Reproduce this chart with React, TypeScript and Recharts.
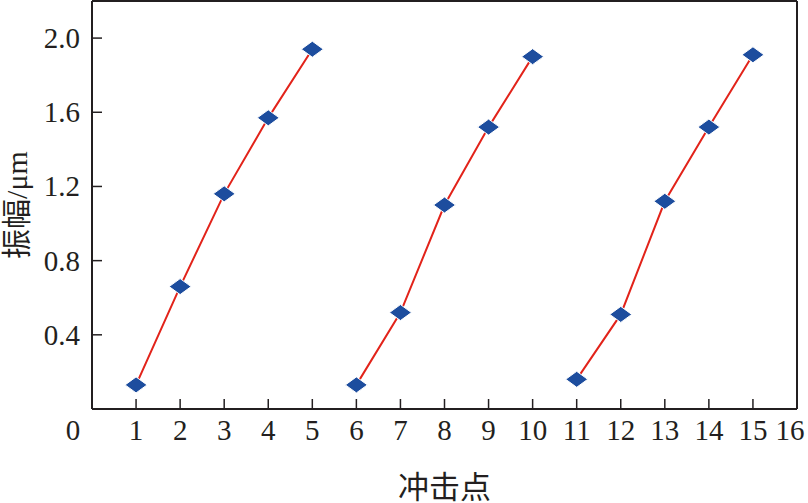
import { LineChart, Line, XAxis, YAxis, ReferenceLine } from 'recharts';

// impact points and measured amplitudes (µm), three runs of five points
const run1X = [1, 2, 3, 4, 5];
const run1Y = [0.13, 0.66, 1.16, 1.57, 1.94];
const run2X = [6, 7, 8, 9, 10];
const run2Y = [0.13, 0.52, 1.1, 1.52, 1.9];
const run3X = [11, 12, 13, 14, 15];
const run3Y = [0.16, 0.51, 1.12, 1.52, 1.91];

const xTicks = [0, 1, 2, 3, 4, 5, 6, 7, 8, 9, 10, 11, 12, 13, 14, 15, 16];
const yTicks = [0.4, 0.8, 1.2, 1.6, 2.0];

const INK = '#231F20';
const SERIF = '"Liberation Serif", "Times New Roman", serif';
const CJK = '"Noto Sans CJK SC", sans-serif';

const toRows = (xs: number[], ys: number[]) => xs.map((x, i) => ({ x, y: ys[i] }));

const Diamond = (props: any) => {
    const { cx, cy } = props;
    if (cx == null || cy == null) return null;
    return (
        <polygon
            points={`${cx - 11},${cy} ${cx},${cy - 8} ${cx + 11},${cy} ${cx},${cy + 8}`}
            fill="#1D4D9E"
            stroke="#fff"
            strokeWidth={1}
        />
    );
};

const XTick = (props: any) => {
    const { x, y, payload } = props;
    const v = payload.value;
    const axisY = y - 8;
    // first and last labels are nudged inward like the original
    const shift = v === 0 ? -19 : v === 16 ? -7 : 0;
    return (
        <g>
            {v !== 0 && v !== 16 && <line x1={x} x2={x} y1={axisY} y2={axisY - 10} stroke={INK} strokeWidth={1.5} />}
            <text x={x + shift} y={y} dy={23} textAnchor="middle" fill={INK} fontSize={29} fontFamily={SERIF}>
                {v}
            </text>
        </g>
    );
};

const YTick = (props: any) => {
    const { x, y, payload } = props;
    const axisX = x + 12;
    return (
        <g>
            <line x1={axisX} x2={axisX + 10} y1={y} y2={y} stroke={INK} strokeWidth={1.5} />
            <text x={x} y={y} dy={10} textAnchor="end" fill={INK} fontSize={29} fontFamily={SERIF}>
                {payload.value.toFixed(1)}
            </text>
        </g>
    );
};

const YLabel = (props: any) => {
    const vb = props.viewBox || {};
    const cx = (vb.x || 0) + 17;
    const cy = (vb.y || 0) + (vb.height || 0) / 2;
    return (
        <text transform={`translate(${cx},${cy}) rotate(-90)`} textAnchor="middle" dy={10} fill={INK} fontSize={30}>
            <tspan fontFamily={CJK}>振幅</tspan>
            <tspan fontFamily={SERIF}>/μm</tspan>
        </text>
    );
};

const XLabel = (props: any) => {
    const vb = props.viewBox || {};
    const cx = (vb.x || 0) + (vb.width || 0) / 2;
    return (
        <text x={cx} y={498} textAnchor="middle" fill={INK} fontSize={31} fontFamily={CJK}>
            冲击点
        </text>
    );
};

export default function App() {
    const series = [toRows(run1X, run1Y), toRows(run2X, run2Y), toRows(run3X, run3Y)];
    return (
        <div style={{ position: 'absolute', left: 0, top: 0, width: 808, height: 503, background: '#fff' }}>
            <LineChart width={808} height={503} margin={{ top: 1, right: 11, left: 0, bottom: 0 }}>
                <XAxis
                    type="number"
                    dataKey="x"
                    domain={[0, 16]}
                    ticks={xTicks}
                    interval={0}
                    height={94}
                    tickSize={0}
                    tickMargin={8}
                    tickLine={false}
                    axisLine={{ stroke: INK, strokeWidth: 2 }}
                    tick={<XTick />}
                    label={<XLabel />}
                />
                <YAxis
                    type="number"
                    domain={[0, 2.2]}
                    ticks={yTicks}
                    interval={0}
                    width={92}
                    tickSize={0}
                    tickMargin={12}
                    tickLine={false}
                    axisLine={{ stroke: INK, strokeWidth: 2 }}
                    tick={<YTick />}
                    label={<YLabel />}
                />
                <ReferenceLine y={2.2} stroke={INK} strokeWidth={2} />
                <ReferenceLine x={16} stroke={INK} strokeWidth={2} />
                {series.map((d, i) => (
                    <Line
                        key={i}
                        data={d}
                        dataKey="y"
                        stroke="#E2231A"
                        strokeWidth={2}
                        dot={<Diamond />}
                        activeDot={false}
                        isAnimationActive={false}
                    />
                ))}
            </LineChart>
        </div>
    );
}
